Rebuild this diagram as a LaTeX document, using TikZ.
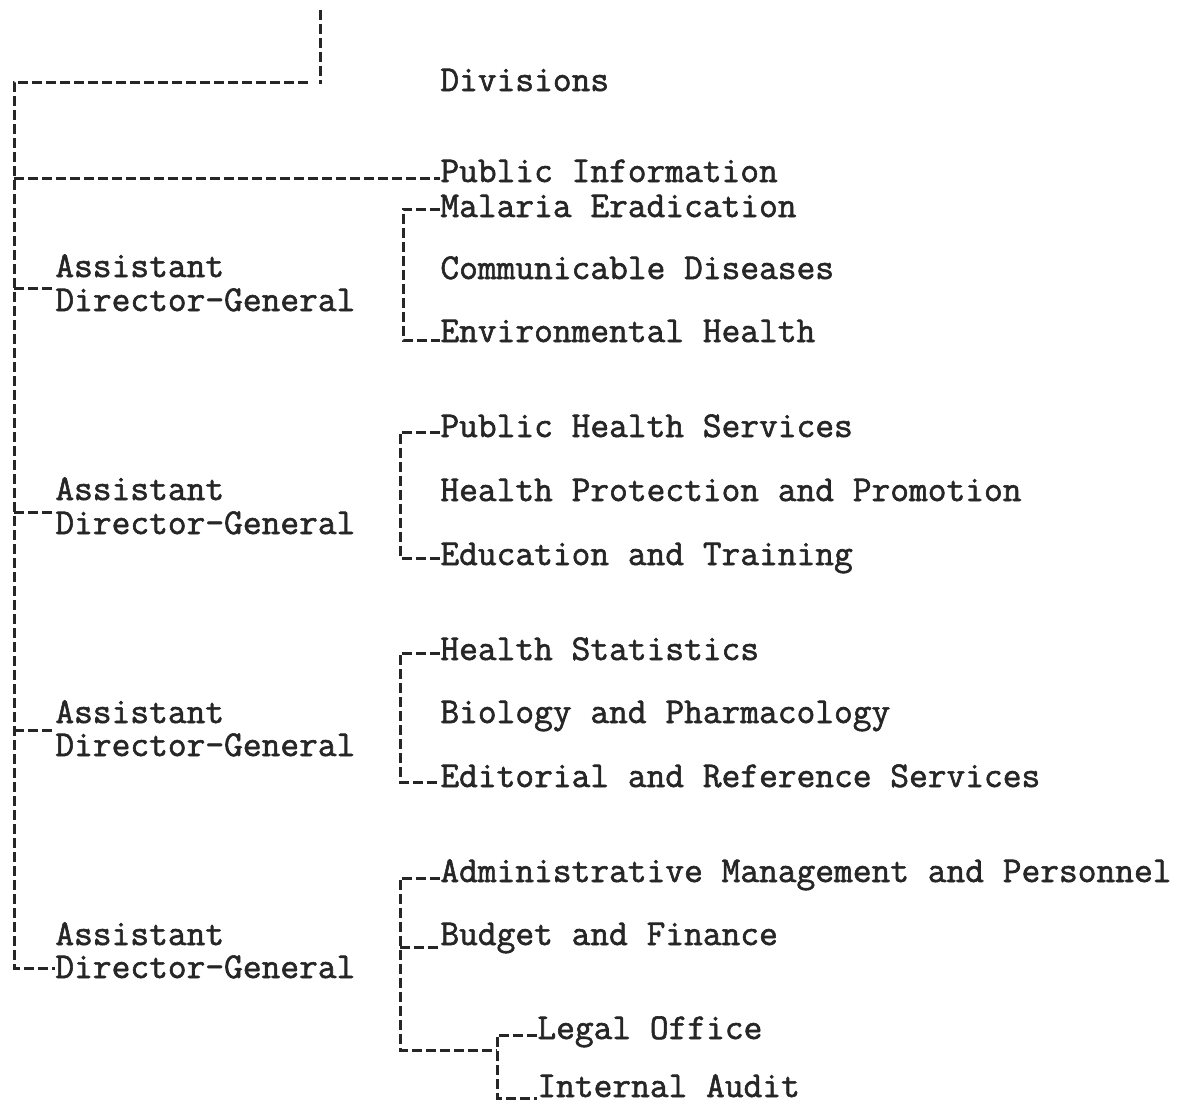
\documentclass[tikz,border=0pt]{standalone}
\usepackage{fontspec}
\setmonofont{Latin Modern Mono}[FakeBold=1.6]
\begin{document}
\begin{tikzpicture}[x=0.5pt, y=-0.5pt,
  lbl/.style={anchor=base west, inner sep=0pt, font=\ttfamily\fontsize{18.2}{15}\selectfont, text=black!85},
  link/.style={draw=black!85, line width=1.5pt, dash pattern=on 5pt off 2pt}]
\useasboundingbox (0,0) rectangle (1190,1103);
\coordinate (top) at (320,10);
\coordinate (topend) at (320,84);
\coordinate (tr0) at (308,82);
\coordinate (tr1) at (14,82);
\coordinate (tr2) at (14,968);
\coordinate (tp) at (14,178);
\coordinate (ta1) at (14,288);
\coordinate (ta2) at (14,512);
\coordinate (ta3) at (14,730);
\node[lbl] (div) at (440,91){Divisions};
\node[lbl] (pubinfo) at (440,182){Public Information};
\node[lbl] (asst1) at (55,277){Assistant};
\node[lbl] (dg1) at (55,311){Director-General};
\node[lbl] (asst2) at (55,500){Assistant};
\node[lbl] (dg2) at (55,534){Director-General};
\node[lbl] (asst3) at (55,723){Assistant};
\node[lbl] (dg3) at (55,756){Director-General};
\node[lbl] (asst4) at (55,945){Assistant};
\node[lbl] (dg4) at (55,978){Director-General};
\node[lbl] (malaria) at (440,217){Malaria Eradication};
\node[lbl] (commdis) at (440,279){Communicable Diseases};
\node[lbl] (envhealth) at (440,342){Environmental Health};
\node[lbl] (phs) at (440,437){Public Health Services};
\node[lbl] (hpp) at (440,501){Health Protection and Promotion};
\node[lbl] (edu) at (440,565){Education and Training};
\node[lbl] (hstat) at (440,660){Health Statistics};
\node[lbl] (biopharm) at (440,723){Biology and Pharmacology};
\node[lbl] (editref) at (440,787){Editorial and Reference Services};
\node[lbl] (admin) at (440,882){Administrative Management and Personnel};
\node[lbl] (budget) at (440,945){Budget and Finance};
\node[lbl] (legal) at (537,1039){Legal Office};
\node[lbl] (audit) at (537,1097){Internal Audit};
\coordinate (g1t) at (403,209);
\coordinate (g1b) at (403,340);
\coordinate (g2t) at (400,432);
\coordinate (g2b) at (400,558);
\coordinate (g3t) at (400,653);
\coordinate (g3b) at (400,782);
\coordinate (g4t) at (400,878);
\coordinate (g4m) at (400,947);
\coordinate (g4b) at (400,1050);
\coordinate (g5t) at (497,1035);
\coordinate (g5m) at (497,1050);
\coordinate (g5b) at (497,1098);
\draw[link](top) -- (topend);
\draw[link](tr0) -- (tr1) -- (tr2) -- (tr2 -| dg4.west);
\draw[link](tp) -- (tp -| pubinfo.west);
\draw[link](ta1) -- (ta1 -| dg1.west);
\draw[link](ta2) -- (ta2 -| dg2.west);
\draw[link](ta3) -- (ta3 -| dg3.west);
\draw[link](g1t -| malaria.west) -- (g1t) -- (g1b) -- (g1b -| envhealth.west);
\draw[link](g2t -| phs.west) -- (g2t) -- (g2b) -- (g2b -| edu.west);
\draw[link](g3t -| hstat.west) -- (g3t) -- (g3b) -- (g3b -| editref.west);
\draw[link](g4t -| admin.west) -- (g4t) -- (g4b) -- (g5m);
\draw[link](g4m) -- (g4m -| budget.west);
\draw[link](g5t -| legal.west) -- (g5t) -- (g5b) -- (g5b -| audit.west);
\end{tikzpicture}
\end{document}
